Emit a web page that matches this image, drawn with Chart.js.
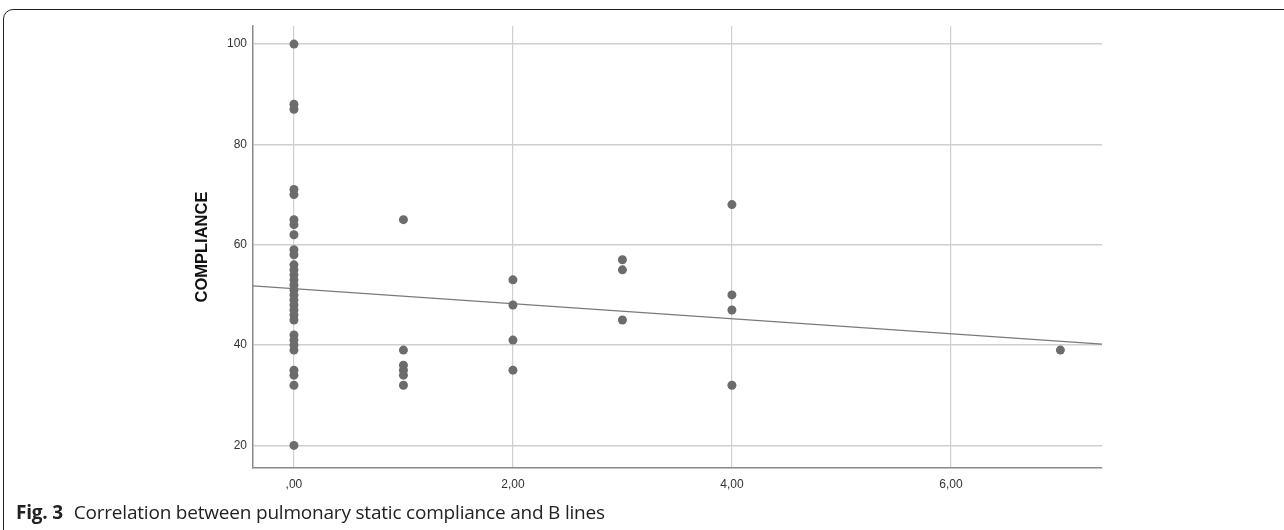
<!DOCTYPE html>
<html>
<head>
<meta charset="utf-8">
<script src="https://cdn.jsdelivr.net/npm/chart.js@4"></script>
<style>
  html, body { margin: 0; padding: 0; background: #fff; }
  body { width: 1284px; height: 530px; position: relative; overflow: hidden; }
  .frame {
    position: absolute; left: 3px; top: 9px; width: 1400px; height: 600px;
    border: 1.5px solid #222; border-radius: 10px; box-sizing: border-box;
  }
  .chartCont { position: absolute; left: 0; top: 0; width: 1284px; height: 530px; }
  .caption {
    position: absolute; left: 16px; top: 500px; line-height: 24px;
    font-family: "Open Sans", sans-serif; font-size: 19px; color: #222; white-space: nowrap;
    letter-spacing: -0.2px;
  }
  .caption b { font-weight: 700; margin-right: 6px; }
</style>
</head>
<body>
<div class="frame"></div>
<div class="chartCont"><canvas id="chart0" width="1284" height="530"></canvas></div>
<div class="caption"><b>Fig. 3</b> Correlation between pulmonary static compliance and B lines</div>
<script>
// B lines (x) and static compliance (y), one entry per patient
const bLines = [
    0, 0, 0, 0, 0, 0, 0, 0, 0, 0,
    0, 0, 0, 0, 0, 0, 0, 0, 0, 0,
    0, 0, 0, 0, 0, 0, 0, 0, 0, 0,
    1, 1, 1, 1, 1, 1,
    2, 2, 2, 2,
    3, 3, 3,
    4, 4, 4, 4,
    7
]
const compliance = [
    100, 88, 87, 71, 70, 65, 64, 62, 59, 58,
    56, 55, 54, 53, 52, 51, 50, 49, 48, 47,
    46, 45, 42, 41, 40, 39, 35, 34, 32, 20,
    65, 39, 36, 35, 34, 32,
    53, 48, 41, 35,
    57, 55, 45,
    68, 50, 47, 32,
    39
]
const xTicks = [0, 2, 4, 6]
const yTicks = [20, 40, 60, 80, 100]
const xMin = -0.374, xMax = 7.38
const yMin = 15.5, yMax = 103.6
// fit line
const fitIntercept = 51.25
const fitSlope = -1.50

const points = bLines.map((b, i) => ({x: b, y: compliance[i]}))
const fitLine = [xMin, xMax].map(x => ({x: x, y: fitIntercept + fitSlope * x}))

const tickFont = {family: 'Liberation Sans, Arial, sans-serif', size: 12}

new Chart('chart0', {
    type: 'scatter',
    data: {
        datasets: [
            {
                data: points,
                backgroundColor: '#6c6c6c',
                borderWidth: 0,
                pointRadius: 4.5,
                order: 1
            },
            {
                type: 'line',
                data: fitLine,
                borderColor: '#7a7a7a',
                borderWidth: 1.2,
                pointRadius: 0,
                fill: false,
                order: 2
            }
        ]
    },
    options: {
        responsive: false,
        animation: false,
        events: [],
        layout: {padding: {left: 0, top: 26, right: 182, bottom: 0}},
        plugins: {legend: {display: false}, tooltip: {enabled: false}},
        scales: {
            x: {
                type: 'linear',
                min: xMin,
                max: xMax,
                afterBuildTicks: s => { s.ticks = xTicks.map(v => ({value: v})) },
                afterFit: s => { s.height = 62 },
                grid: {color: '#cfcfcf', lineWidth: 1.2, drawTicks: false},
                border: {color: '#8a8a8a', width: 1.5},
                ticks: {
                    padding: 9,
                    color: '#333',
                    font: tickFont,
                    maxRotation: 0,
                    callback: v => (v === 0 ? '' : v) + ',00'
                }
            },
            y: {
                min: yMin,
                max: yMax,
                afterBuildTicks: s => { s.ticks = yTicks.map(v => ({value: v})) },
                afterFit: s => { s.width = 253 },
                grid: {color: '#cfcfcf', lineWidth: 1.5, drawTicks: false},
                border: {color: '#8a8a8a', width: 1.5},
                ticks: {padding: 6, color: '#333', font: tickFont},
                title: {
                    display: true,
                    text: 'COMPLIANCE',
                    color: '#111',
                    font: {family: 'Liberation Sans, Arial, sans-serif', size: 16.5, weight: 'bold'},
                    padding: {top: 193, bottom: 0}
                }
            }
        }
    }
})
</script>
</body>
</html>
